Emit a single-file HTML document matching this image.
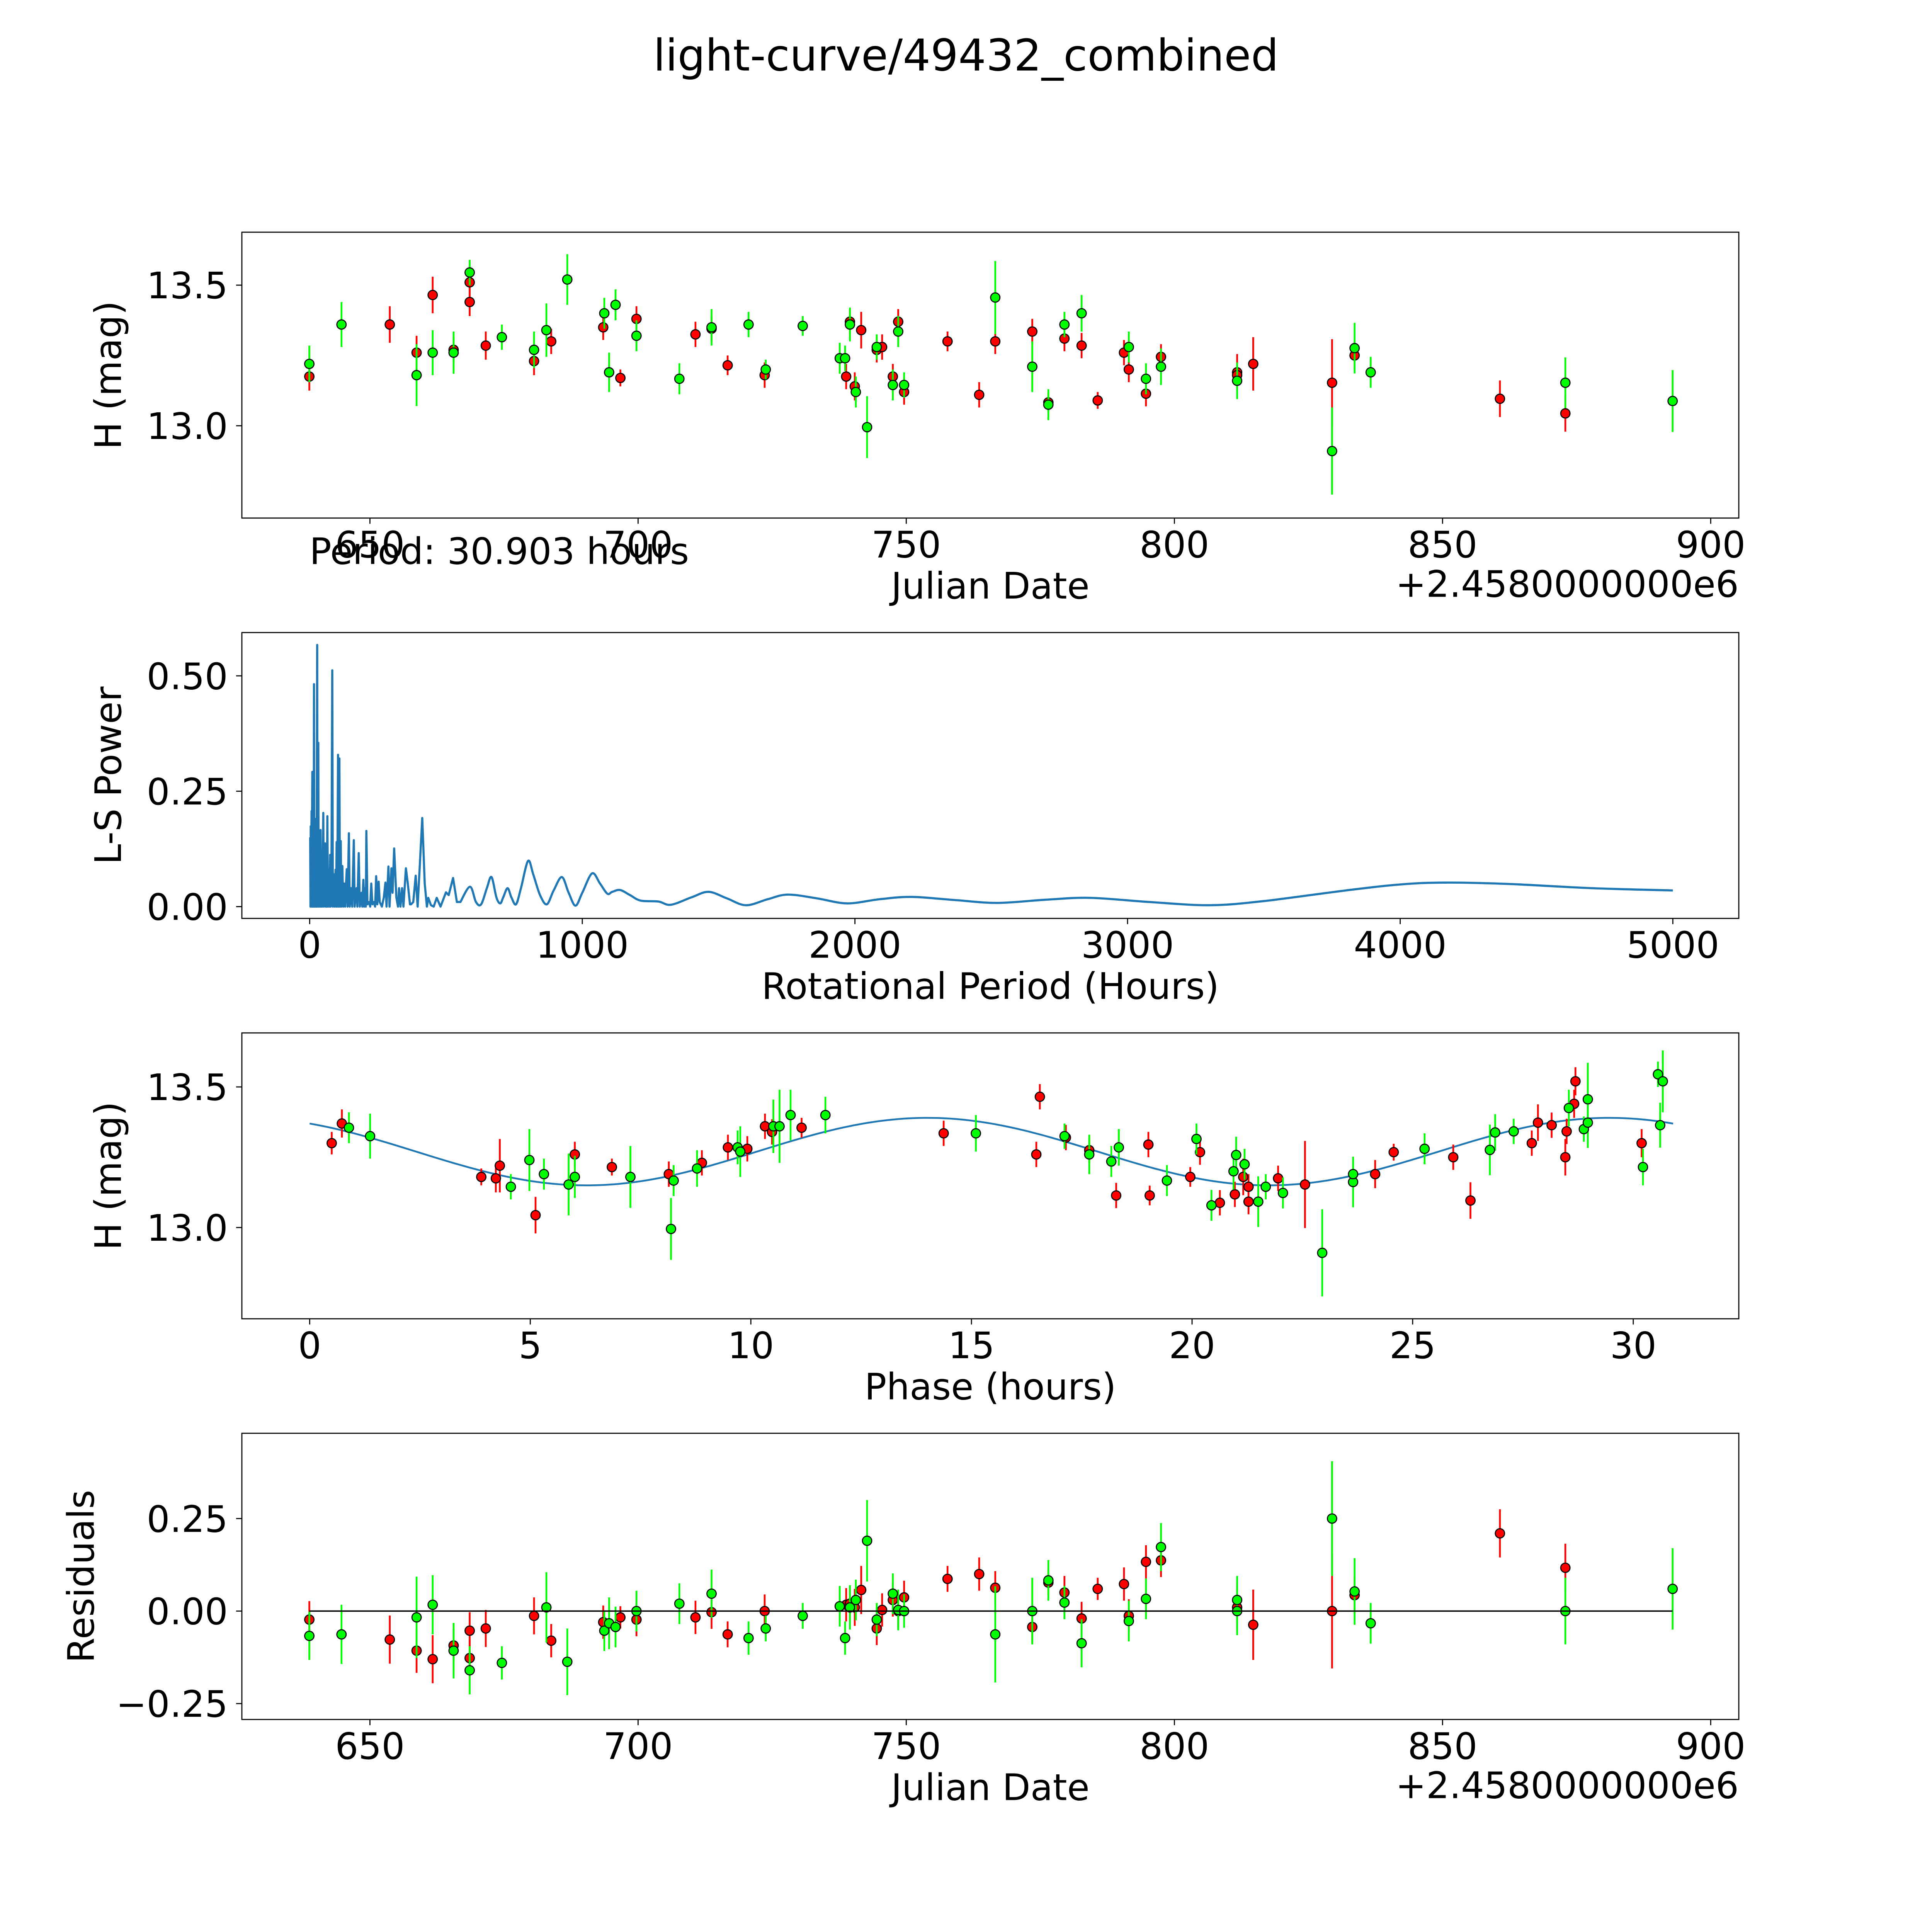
<!DOCTYPE html>
<html><head><meta charset="utf-8"><title>light-curve/49432_combined</title>
<style>html,body{margin:0;padding:0;background:#fff;width:100%;height:100%;overflow:hidden}svg{display:block;width:100vw;height:100vh}text{font-family:"DejaVu Sans","Liberation Sans",sans-serif;fill:#000}</style>
</head><body>
<svg id="fig" xmlns="http://www.w3.org/2000/svg" viewBox="0 0 5400 5400" preserveAspectRatio="none">
<rect width="5400" height="5400" fill="#fff"/>
<text x="2700" y="197" font-size="122" text-anchor="middle">light-curve/49432_combined</text>
</svg>
<script>
// ---- data: top light curve [date, mag, err] ----
const lcRed = [[638.7,13.175,.05],[653.7,13.36,.065],[658.7,13.26,.06],[661.7,13.465,.065],[665.6,13.27,.045],[668.6,13.51,.05],[668.6,13.44,.05],[671.6,13.285,.05],[680.6,13.23,.05],[683.8,13.30,.045],[693.5,13.35,.045],[696.7,13.17,.03],[699.7,13.38,.045],[710.7,13.325,.045],[713.7,13.345,.045],[716.7,13.215,.035],[723.6,13.18,.045],[738.8,13.175,.045],[739.5,13.37,.045],[740.4,13.14,.05],[741.6,13.34,.065],[744.5,13.27,.045],[745.5,13.28,.045],[747.5,13.175,.045],[748.5,13.37,.045],[749.6,13.12,.045],[757.7,13.30,.035],[763.6,13.11,.045],[766.6,13.30,.045],[773.5,13.335,.045],[776.5,13.083,.035],[779.5,13.31,.045],[782.7,13.285,.045],[785.7,13.09,.03],[790.6,13.26,.045],[791.5,13.20,.045],[794.7,13.114,.045],[797.5,13.245,.045],[811.7,13.19,.065],[811.7,13.18,.045],[814.7,13.22,.095],[829.4,13.153,.155],[833.6,13.25,.05],[860.7,13.096,.065],[872.9,13.044,.065]];
const lcGreen = [[638.7,13.22,.065],[644.7,13.36,.08],[658.7,13.18,.11],[661.7,13.26,.08],[665.6,13.26,.075],[668.6,13.545,.045],[674.6,13.315,.045],[680.6,13.27,.065],[682.9,13.34,.095],[686.8,13.52,.09],[693.7,13.40,.055],[694.6,13.19,.07],[695.8,13.43,.055],[699.7,13.32,.055],[707.7,13.167,.055],[713.7,13.35,.065],[720.6,13.36,.045],[723.8,13.20,.035],[730.7,13.355,.035],[737.6,13.24,.055],[738.6,13.24,.045],[739.5,13.36,.06],[740.6,13.12,.055],[742.7,12.995,.11],[744.5,13.28,.045],[747.5,13.145,.055],[748.5,13.335,.055],[749.6,13.145,.045],[766.6,13.456,.13],[773.5,13.21,.09],[776.5,13.075,.055],[779.5,13.36,.045],[782.7,13.40,.065],[791.5,13.28,.055],[794.7,13.167,.055],[797.5,13.21,.065],[811.7,13.16,.065],[829.4,12.91,.155],[833.6,13.276,.09],[836.6,13.19,.055],[872.9,13.153,.09],[892.9,13.088,.11]];
const dateTicks = [650,700,750,800,850,900];
const magTicks = [13.0,13.5];
// ---- periodogram [period hours, power] ----
const lsRaw = [[2,0.15],[3,0.0],[4,0.174],[5,0.02],[6,0.12],[7,0.207],[8,0.0],[9,0.21],[9.9,0.292],[11,0.0],[12,0.18],[13,0.05],[14,0.2],[15,0.0],[15.9,0.482],[17,0.0],[18,0.12],[19,0.0],[20,0.15],[21,0.02],[22,0.19],[23,0.0],[24,0.17],[25,0.0],[26,0.14],[27.7,0.567],[28.5,0.0],[30,0.2],[31.8,0.355],[33,0.0],[35,0.15],[37,0.0],[40,0.166],[42,0.0],[44,0.12],[46,0.0],[48,0.1],[50,0.203],[52,0.0],[54,0.1],[57,0.137],[59,0.0],[61,0.09],[63,0.0],[65,0.196],[67,0.0],[70,0.08],[72,0.0],[75,0.112],[77,0.0],[80,0.09],[83,0.512],[85,0.0],[88,0.07],[91,0.0],[95,0.08],[97,0.0],[99,0.14],[101,0.0],[104,0.329],[106,0.0],[109,0.321],[111,0.0],[114,0.142],[116,0.0],[120,0.088],[123,0.0],[127,0.05],[130,0.0],[136,0.081],[139,0.0],[144,0.159],[147,0.0],[152,0.04],[156,0.0],[162,0.144],[165,0.0],[172,0.04],[175,0.0],[180,0.116],[184,0.0],[190,0.03],[193,0.0],[197,0.058],[200,0.0],[204,0.04],[206,0.0],[208,0.164],[212,0.005],[218,0.01],[222,0.0],[226,0.05],[230,0.005],[236,0.01],[240,0.0],[244,0.066],[248,0.005],[253,0.054],[257,0.01],[265,0.0],[272,0.02],[278,0.052],[282,0.0],[289,0.087],[293,0.0],[300,0.083],[304,0.03],[310,0.126],[318,0.02],[324,0.0],[328,0.04],[333,0.0],[339,0.04],[344,0.0],[353,0.083],[360,0.05],[368,0.005],[372,0.005],[380,0.01],[389,0.067],[396,0.0],[405,0.1],[413,0.192],[422,0.05],[430,0.0],[435,0.019],[445,0.003],[455,0.0],[466,0.019],[480,0.0],[500,0.031],[510,0.025],[526,0.062],[540,0.01]];
const lsSmooth = [[553,0.01],[588,0.043],[610,0.01],[629,0.005],[650,0.04],[667,0.064],[685,0.02],[699,0.007],[710,0.02],[726,0.040],[740,0.02],[757,0.005],[775,0.04],[801,0.099],[820,0.07],[845,0.025],[870,0.005],[895,0.035],[925,0.064],[950,0.03],[975,0.002],[1000,0.03],[1036,0.072],[1065,0.05],[1092,0.028],[1110,0.032],[1139,0.036],[1175,0.025],[1214,0.013],[1279,0.011],[1325,0.004],[1400,0.02],[1463,0.032],[1530,0.018],[1600,0.003],[1680,0.016],[1753,0.026],[1860,0.018],[1971,0.007],[2090,0.016],[2208,0.021],[2370,0.014],[2523,0.008],[2700,0.015],[2863,0.019],[3080,0.01],[3300,0.003],[3500,0.012],[3800,0.035],[4000,0.048],[4162,0.052],[4400,0.049],[4700,0.04],[5000,0.035]];
const periodTicks = [0,1000,2000,3000,4000,5000];
const powerTicks = [0.00,0.25,0.50];
// ---- phased [phase hours, mag, err] ----
const phRed = [[0.50,13.30,.04],[0.73,13.37,.05],[3.89,13.18,.03],[4.22,13.175,.05],[4.31,13.22,.095],[5.12,13.044,.065],[6.01,13.26,.045],[6.85,13.215,.03],[8.14,13.19,.045],[8.89,13.23,.045],[9.48,13.285,.045],[9.92,13.28,.045],[10.32,13.36,.045],[10.48,13.34,.045],[11.15,13.355,.035],[14.37,13.335,.045],[16.47,13.26,.045],[16.55,13.465,.045],[17.14,13.32,.045],[17.67,13.275,.045],[18.28,13.114,.045],[19.01,13.295,.045],[19.04,13.114,.035],[19.96,13.18,.035],[20.18,13.268,.045],[20.63,13.088,.045],[20.97,13.118,.045],[21.16,13.18,.065],[21.28,13.145,.045],[21.28,13.092,.045],[21.95,13.175,.045],[22.56,13.153,.155],[24.15,13.19,.05],[24.57,13.268,.03],[25.92,13.25,.045],[26.31,13.096,.065],[27.70,13.30,.045],[27.84,13.373,.065],[28.15,13.364,.045],[28.46,13.25,.065],[28.49,13.342,.045],[28.66,13.44,.05],[28.69,13.52,.05],[30.19,13.30,.05]];
const phGreen = [[0.89,13.355,.055],[1.37,13.325,.08],[4.56,13.145,.045],[4.98,13.24,.11],[5.31,13.19,.055],[5.87,13.153,.11],[6.01,13.18,.075],[7.27,13.18,.11],[8.19,12.995,.11],[8.25,13.167,.055],[8.78,13.21,.065],[9.70,13.285,.06],[9.76,13.27,.09],[10.51,13.36,.095],[10.65,13.36,.13],[10.90,13.40,.09],[11.69,13.40,.065],[15.10,13.335,.065],[17.11,13.325,.045],[17.67,13.26,.07],[18.17,13.235,.055],[18.34,13.285,.065],[19.43,13.167,.055],[20.10,13.315,.055],[20.44,13.079,.055],[20.94,13.20,.065],[21.00,13.258,.065],[21.19,13.225,.055],[21.50,13.092,.09],[21.67,13.145,.045],[22.06,13.123,.055],[22.95,12.91,.155],[23.65,13.162,.09],[23.65,13.19,.055],[25.27,13.28,.055],[26.75,13.276,.09],[26.87,13.338,.065],[27.29,13.342,.045],[28.54,13.425,.065],[28.88,13.35,.045],[28.97,13.456,.13],[28.97,13.373,.09],[30.22,13.215,.065],[30.56,13.545,.045],[30.61,13.364,.08],[30.67,13.52,.11]];
const fitParams = [13.27, 0.12, 15.45, 14.0]; // mean, amplitude, half-period, peak phase
const fitRange = [0, 30.903];
const phaseTicks = [0,5,10,15,20,25,30];
// ---- residuals [date, residual, err] ----
const resRed = [[638.7,-0.023,.05],[653.7,-0.077,.065],[658.7,-0.107,.06],[661.7,-0.13,.065],[665.6,-0.093,.045],[668.6,-0.053,.05],[668.6,-0.127,.05],[671.6,-0.047,.05],[680.6,-0.013,.05],[683.8,-0.08,.045],[693.5,-0.03,.045],[696.7,-0.017,.03],[699.7,-0.023,.045],[710.7,-0.017,.045],[713.7,-0.003,.045],[716.7,-0.063,.035],[723.6,0,.045],[738.8,0.017,.045],[739.5,0.02,.045],[740.4,0.01,.05],[741.6,0.057,.065],[744.5,-0.047,.045],[745.5,0.003,.045],[747.5,0.03,.045],[748.5,0,.045],[749.6,0.037,.045],[757.7,0.087,.035],[763.6,0.1,.045],[766.6,0.063,.045],[773.5,-0.043,.045],[776.5,0.077,.035],[779.5,0.05,.045],[782.7,-0.02,.045],[785.7,0.06,.03],[790.6,0.073,.045],[791.5,-0.013,.045],[794.7,0.133,.045],[797.5,0.137,.045],[811.7,0.01,.065],[814.7,-0.037,.095],[829.4,0,.155],[833.6,0.043,.05],[860.7,0.21,.065],[872.9,0.117,.065]];
const resGreen = [[638.7,-0.067,.065],[644.7,-0.063,.08],[658.7,-0.017,.11],[661.7,0.017,.08],[665.6,-0.107,.075],[668.6,-0.16,.065],[674.6,-0.14,.045],[682.9,0.01,.095],[686.8,-0.137,.09],[693.7,-0.053,.055],[694.6,-0.033,.07],[695.8,-0.043,.055],[699.7,0,.055],[707.7,0.02,.055],[713.7,0.047,.065],[720.6,-0.073,.045],[723.8,-0.047,.035],[730.7,-0.013,.035],[737.6,0.013,.055],[738.6,-0.073,.045],[739.5,0.01,.06],[740.6,0.03,.055],[742.7,0.19,.11],[744.5,-0.023,.045],[747.5,0.047,.055],[748.5,0.003,.055],[749.6,0,.045],[766.6,-0.063,.13],[773.5,0,.09],[776.5,0.083,.055],[779.5,0.023,.045],[782.7,-0.087,.065],[791.5,-0.027,.055],[794.7,0.033,.055],[797.5,0.173,.065],[811.7,0.03,.065],[811.7,0,.065],[829.4,0.25,.155],[833.6,0.053,.09],[836.6,-0.033,.055],[872.9,0,.09],[892.9,0.06,.11]];
const resTicks = [-0.25,0.00,0.25];
const resLine = [638.7, 892.9];

const NS = "http://www.w3.org/2000/svg";
const svg = document.getElementById('fig');
function mk(tag, attrs, parent) {
  const e = document.createElementNS(NS, tag);
  for (const k in attrs) e.setAttribute(k, attrs[k]);
  (parent || svg).appendChild(e);
  return e;
}
function lin(d0, d1, p0, p1) { return v => p0 + (v - d0) / (d1 - d0) * (p1 - p0); }
const L = 676, R = 4860, FS = 102;
function axes(name, top, bot, xs, ys, xt, yt, xfmt, yfmt, xlabel, ylabel, ylabX) {
  const g = mk('g', {});
  
  
  xt.forEach(v => {
    const x = xs(v);
    const t = mk('line', {x1: x, x2: x, y1: bot, y2: bot + 16, stroke: '#000', 'stroke-width': 3}, g);
    
    
    const l = mk('text', {x: x, y: bot + 110, 'font-size': FS, 'text-anchor': 'middle'}, g);
    l.textContent = xfmt(v);
    
    
  });
  yt.forEach(v => {
    const y = ys(v);
    const t = mk('line', {x1: L - 16, x2: L, y1: y, y2: y, stroke: '#000', 'stroke-width': 3}, g);
    
    
    const l = mk('text', {x: 637, y: y + 37, 'font-size': FS, 'text-anchor': 'end'}, g);
    l.textContent = yfmt(v);
    
    
  });
  const xl = mk('text', {x: (L + R) / 2, y: bot + 225, 'font-size': FS, 'text-anchor': 'middle'}, g);
  xl.textContent = xlabel;
  
  
  const cy = (top + bot) / 2;
  const yl = mk('text', {x: ylabX, y: cy, 'font-size': FS, 'text-anchor': 'middle', transform: `rotate(-90 ${ylabX} ${cy})`}, g);
  yl.textContent = ylabel;
  
  
  return g;
}
function frame(top, bot) {
  const f = mk('rect', {x: L, y: top, width: R - L, height: bot - top, fill: 'none', stroke: '#000', 'stroke-width': 3});
  
  
}
function errPoints(data, xs, ys, color, name) {
  const g = mk('g', {});
  
  
  data.forEach(d => {
    const x = xs(d[0]);
    const b = mk('line', {x1: x, x2: x, y1: ys(d[1] - d[2]), y2: ys(d[1] + d[2]), stroke: color, 'stroke-width': 5}, g);
    
    
  });
  data.forEach(d => {
    const c = mk('circle', {cx: xs(d[0]), cy: ys(d[1]), r: 13, fill: color, stroke: '#000', 'stroke-width': 3}, g);
    
    
  });
}
const dfmt = v => String(v);
const f1 = v => v.toFixed(1);
const f2 = v => (v < 0 ? '\u2212' : '') + Math.abs(v).toFixed(2);

// Panel 1
const p1t = 649, p1b = 1448;
const x1 = lin(626.12, 905.24, L, R), y1 = lin(13.5, 13.0, 797, 1190);
axes('light-curve-axes', p1t, p1b, x1, y1, dateTicks, magTicks, dfmt, f1, 'Julian Date', 'H (mag)', 338);
errPoints(lcRed, x1, y1, '#ff0000', 'red-series');
errPoints(lcGreen, x1, y1, '#00ff00', 'green-series');
frame(p1t, p1b);
let off = mk('text', {x: R, y: 1668, 'font-size': FS, 'text-anchor': 'end'});
off.textContent = '+2.4580000000e6';


const per = mk('text', {x: 865, y: 1576, 'font-size': FS});
per.textContent = 'Period: 30.903 hours';



// Panel 2
const p2t = 1768, p2b = 2567;
const x2 = lin(0, 5000, 865.5, 4675.6), y2 = lin(0, 0.5, 2534, 1889);
axes('periodogram-axes', p2t, p2b, x2, y2, periodTicks, powerTicks, dfmt, f2, 'Rotational Period (Hours)', 'L-S Power', 338);
let dPath = lsRaw.map((p, i) => (i ? 'L' : 'M') + x2(p[0]).toFixed(1) + ' ' + y2(p[1]).toFixed(1)).join(' ');
const sp = lsSmooth.map(p => [x2(p[0]), y2(p[1])]);
dPath += ' L' + sp[0][0].toFixed(1) + ' ' + sp[0][1].toFixed(1);
for (let i = 0; i < sp.length - 1; i++) {
  const p0 = sp[Math.max(0, i - 1)], p1 = sp[i], p2 = sp[i + 1], p3 = sp[Math.min(sp.length - 1, i + 2)];
  const c1 = [p1[0] + (p2[0] - p0[0]) / 6, p1[1] + (p2[1] - p0[1]) / 6];
  const c2 = [p2[0] - (p3[0] - p1[0]) / 6, p2[1] - (p3[1] - p1[1]) / 6];
  dPath += ` C${c1[0].toFixed(1)} ${c1[1].toFixed(1)} ${c2[0].toFixed(1)} ${c2[1].toFixed(1)} ${p2[0].toFixed(1)} ${p2[1].toFixed(1)}`;
}
const ls = mk('path', {d: dPath, fill: 'none', stroke: '#1f77b4', 'stroke-width': 6, 'stroke-linejoin': 'round'});


frame(p2t, p2b);

// Panel 3
const p3t = 2887, p3b = 3686;
const x3 = lin(0, 30, 865.5, 4565), y3 = lin(13.5, 13.0, 3038, 3431);
axes('phase-axes', p3t, p3b, x3, y3, phaseTicks, magTicks, dfmt, f1, 'Phase (hours)', 'H (mag)', 338);
let fp = '';
for (let i = 0; i <= 300; i++) {
  const t = fitRange[0] + (fitRange[1] - fitRange[0]) * i / 300;
  const m = fitParams[0] + fitParams[1] * Math.cos(2 * Math.PI * (t - fitParams[3]) / fitParams[2]);
  fp += (i ? 'L' : 'M') + x3(t).toFixed(1) + ' ' + y3(m).toFixed(1) + ' ';
}
const fit = mk('path', {d: fp, fill: 'none', stroke: '#1f77b4', 'stroke-width': 5});


errPoints(phRed, x3, y3, '#ff0000', 'red-phase-series');
errPoints(phGreen, x3, y3, '#00ff00', 'green-phase-series');
frame(p3t, p3b);

// Panel 4
const p4t = 4006, p4b = 4806;
const x4 = x1, y4 = lin(0, 0.25, 4503, 4244.4);
axes('residuals-axes', p4t, p4b, x4, y4, dateTicks, resTicks, dfmt, f2, 'Julian Date', 'Residuals', 262);
errPoints(resRed, x4, y4, '#ff0000', 'red-residuals');
errPoints(resGreen, x4, y4, '#00ff00', 'green-residuals');
const zl = mk('line', {x1: x4(resLine[0]), x2: x4(resLine[1]), y1: y4(0), y2: y4(0), stroke: '#000', 'stroke-width': 4});


frame(p4t, p4b);
off = mk('text', {x: R, y: 5026, 'font-size': FS, 'text-anchor': 'end'});
off.textContent = '+2.4580000000e6';


</script>
</body></html>
